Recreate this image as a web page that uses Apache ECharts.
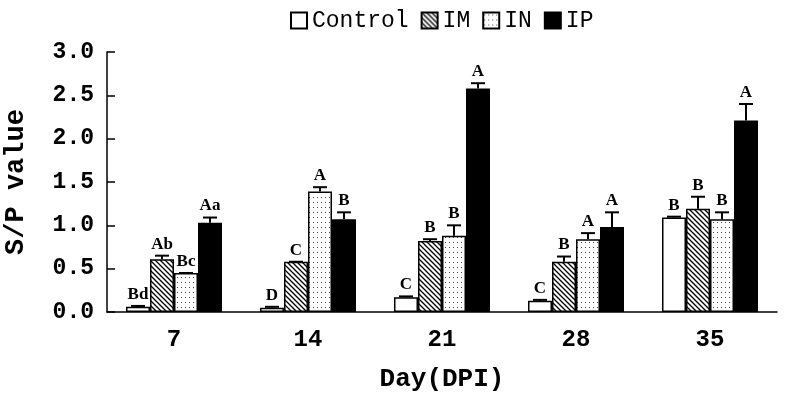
<!DOCTYPE html>
<html>
<head>
<meta charset="utf-8">
<script src="https://cdn.jsdelivr.net/npm/echarts@6/dist/echarts.min.js"></script>
<style>
html, body { margin: 0; padding: 0; background: #fff; }
#chart { width: 787px; height: 394px; }
</style>
</head>
<body>
<div id="chart"></div>
<script>
// data
var days = ['7', '14', '21', '28', '35']
var yTicks = [0, 0.5, 1.0, 1.5, 2.0, 2.5, 3.0]
var seriesNames = ['Control', 'IM', 'IN', 'IP']

var control = [0.06, 0.05, 0.17, 0.13, 1.09]
var im = [0.61, 0.58, 0.82, 0.58, 1.19]
var inn = [0.45, 1.39, 0.88, 0.84, 1.07]
var ip = [1.03, 1.07, 2.58, 0.98, 2.21]

var controlErr = [0.01, 0.01, 0.01, 0.01, 0.01]
var imErr = [0.04, 0.0, 0.02, 0.06, 0.14]
var innErr = [0.0, 0.05, 0.12, 0.07, 0.08]
var ipErr = [0.06, 0.08, 0.06, 0.17, 0.19]

var controlLetters = ['Bd', 'D', 'C', 'C', 'B']
var imLetters = ['Ab', 'C', 'B', 'B', 'B']
var innLetters = ['Bc', 'A', 'B', 'A', 'B']
var ipLetters = ['Aa', 'B', 'A', 'A', 'A']

var values = [control, im, inn, ip]
var errors = [controlErr, imErr, innErr, ipErr]
var letters = [controlLetters, imLetters, innLetters, ipLetters]

var barW = 24
var monoFont = '"Liberation Mono", "DejaVu Sans Mono", monospace'

// fill patterns
function hatchPattern() {
  var c = document.createElement('canvas')
  c.width = 5
  c.height = 5
  var ctx = c.getContext('2d')
  ctx.fillStyle = '#fff'
  ctx.fillRect(0, 0, 5, 5)
  ctx.strokeStyle = '#000'
  ctx.lineWidth = 1.3
  ctx.beginPath()
  ctx.moveTo(-1, -1); ctx.lineTo(6, 6)
  ctx.moveTo(-1, 4); ctx.lineTo(1, 6)
  ctx.moveTo(4, -1); ctx.lineTo(6, 1)
  ctx.stroke()
  return c
}
function dotPattern() {
  var c = document.createElement('canvas')
  c.width = 4
  c.height = 5
  var ctx = c.getContext('2d')
  ctx.fillStyle = '#fff'
  ctx.fillRect(0, 0, 4, 5)
  ctx.fillStyle = '#444'
  ctx.fillRect(1, 2, 1, 1)
  return c
}

var fills = [
  '#fff',
  { image: hatchPattern(), repeat: 'repeat' },
  { image: dotPattern(), repeat: 'repeat' },
  '#000'
]

var barSeries = seriesNames.map(function(name, s) {
  return {
    name: name,
    type: 'bar',
    barWidth: barW,
    barGap: '0%',
    itemStyle: { color: fills[s], borderColor: '#000', borderWidth: 1.5 },
    data: values[s]
  }
})

var errData = []
var errLabels = []
for (var s = 0; s < 4; s++) {
  for (var d = 0; d < days.length; d++) {
    errData.push([d, s, values[s][d], errors[s][d]])
    errLabels.push(letters[s][d])
  }
}

var chart = echarts.init(document.getElementById('chart'))
chart.setOption({
  animation: false,
  legend: {
    top: 4,
    left: 285,
    itemWidth: 16,
    itemHeight: 16,
    itemGap: 12,
    icon: 'rect',
    data: seriesNames,
    textStyle: { fontFamily: monoFont, fontSize: 23, color: '#000' }
  },
  grid: { left: 107, right: 10, top: 52, bottom: 82, outerBoundsMode: 'none', containLabel: false },
  xAxis: {
    type: 'category',
    data: days,
    name: 'Day(DPI)',
    nameLocation: 'middle',
    nameGap: 54,
    nameTextStyle: { fontFamily: monoFont, fontWeight: 'bold', fontSize: 26, color: '#000' },
    axisLine: { lineStyle: { color: '#000', width: 1.5 } },
    axisTick: { inside: true, length: 10, lineStyle: { color: '#000', width: 1.5 } },
    axisLabel: { margin: 16, fontFamily: monoFont, fontWeight: 'bold', fontSize: 24, color: '#000' }
  },
  yAxis: {
    type: 'value',
    min: yTicks[0],
    max: yTicks[yTicks.length - 1],
    interval: 0.5,
    name: 'S/P value',
    nameLocation: 'middle',
    nameGap: 77,
    nameTextStyle: { fontFamily: monoFont, fontWeight: 'bold', fontSize: 27, color: '#000' },
    splitLine: { show: false },
    axisLine: { show: true, lineStyle: { color: '#000', width: 1.5 } },
    axisTick: { show: true, inside: true, length: 8, lineStyle: { color: '#000', width: 1.5 } },
    axisLabel: {
      margin: 13,
      fontFamily: monoFont,
      fontWeight: 'bold',
      fontSize: 23,
      color: '#000',
      formatter: function(v) { return v.toFixed(1) }
    }
  },
  series: barSeries.concat([{
    type: 'custom',
    name: 'err',
    z: 5,
    encode: { x: 0, y: 2 },
    data: errData,
    renderItem: function(params, api) {
      var cat = api.value(0)
      var si = api.value(1)
      var val = api.value(2)
      var err = api.value(3)
      var base = api.coord([cat, val])
      var top = api.coord([cat, val + err])
      var x = base[0] + (si - 1.5) * barW
      return {
        type: 'group',
        children: [
          { type: 'line', shape: { x1: x, y1: base[1], x2: x, y2: top[1] }, style: { stroke: '#000', lineWidth: 2 } },
          { type: 'line', shape: { x1: x - 7, y1: top[1], x2: x + 7, y2: top[1] }, style: { stroke: '#000', lineWidth: 2 } },
          {
            type: 'text',
            style: {
              text: errLabels[params.dataIndex],
              x: x,
              y: top[1] - 3,
              align: 'center',
              verticalAlign: 'bottom',
              font: 'bold 17px "Liberation Serif", serif',
              fill: '#000'
            }
          }
        ]
      }
    }
  }])
})
</script>
</body>
</html>
